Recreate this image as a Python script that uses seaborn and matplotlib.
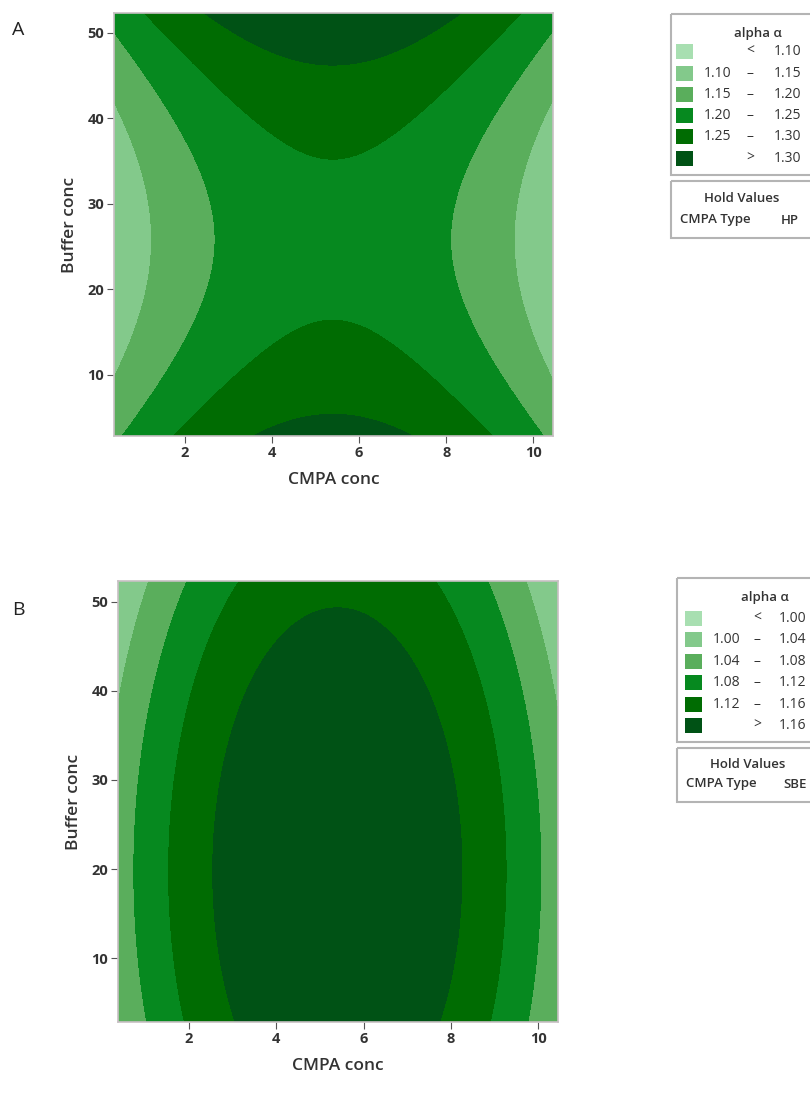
import numpy as np
import matplotlib
matplotlib.use("Agg")
import matplotlib.pyplot as plt
from matplotlib.patches import Rectangle
import seaborn as sns

# response surface settings (quadratic fit, centre + curvature)
x_range = [0.38, 10.45]
y_range = [2.85, 52.3]

# panel A : CMPA Type = HP  (saddle)
a_centre = [5.4, 25.8]
a_const = 1.2365
a_curv = [-0.005, 1.524e-4]
a_levels = [1.10, 1.15, 1.20, 1.25, 1.30]
a_labels = [("", "<", "1.10"), ("1.10", "–", "1.15"), ("1.15", "–", "1.20"),
            ("1.20", "–", "1.25"), ("1.25", "–", "1.30"), ("", ">", "1.30")]

# panel B : CMPA Type = SBE  (maximum)
b_centre = [5.4, 19.75]
b_const = 1.208
b_curv = [-0.0059, -5.5e-5]
b_levels = [1.00, 1.04, 1.08, 1.12, 1.16]
b_labels = [("", "<", "1.00"), ("1.00", "–", "1.04"), ("1.04", "–", "1.08"),
            ("1.08", "–", "1.12"), ("1.12", "–", "1.16"), ("", ">", "1.16")]

greens = ["#a8dfb1", "#83c98b", "#5aae5c", "#06891f", "#006c02", "#005215"]

sns.set_style("white")
plt.rcParams['font.family'] = ['Open Sans', 'DejaVu Sans']

fig = plt.figure(figsize=(8.1, 10.99), dpi=100)
W, H = 810, 1099
tc = "#333333"


def px_axes(l, t, r, b):
    return fig.add_axes([l / W, 1 - b / H, (r - l) / W, (b - t) / H])


def surface(centre, const, curv):
    xs = np.linspace(x_range[0], x_range[1], 300)
    ys = np.linspace(y_range[0], y_range[1], 300)
    X, Y = np.meshgrid(xs, ys)
    Z = const + curv[0] * (X - centre[0]) ** 2 + curv[1] * (Y - centre[1]) ** 2
    return X, Y, Z


def draw_panel(box, centre, const, curv, levels):
    ax = px_axes(*box)
    X, Y, Z = surface(centre, const, curv)
    lv = [-10] + levels + [10]
    ax.contourf(X, Y, Z, levels=lv, colors=greens)
    ax.set_xlim(x_range)
    ax.set_ylim(y_range)
    ax.set_xticks([2, 4, 6, 8, 10])
    ax.set_yticks([10, 20, 30, 40, 50])
    ax.tick_params(axis="both", length=5, width=0.8, color="#555555", labelsize=10.5,
                   labelcolor=tc, bottom=True, left=True, pad=2)
    for lab in ax.get_xticklabels() + ax.get_yticklabels():
        lab.set_fontweight("bold")
    for s in ax.spines.values():
        s.set_color("#c8c0c4")
        s.set_linewidth(1.2)
    ax.set_xlabel("CMPA conc", fontsize=12.5, fontweight="semibold", color=tc, labelpad=9)
    ax.set_ylabel("Buffer conc", fontsize=12.5, fontweight="semibold", color=tc, labelpad=7)
    return ax


def draw_legend(lax, labels, left, top, bottom, hold_bottom, title_y, rows_y, sw_x, cols,
                hold_type, hold_xs):
    lax.add_patch(Rectangle((left, top), W + 20 - left, bottom - top, fill=False,
                            ec="#b4b4b4", lw=1.5))
    lax.add_patch(Rectangle((left, bottom + 6), W + 20 - left, hold_bottom - bottom - 6,
                            fill=False, ec="#b4b4b4", lw=1.5))
    lax.text(cols[1] + 8, title_y, "alpha α", ha="center", va="center", fontsize=9.5,
             fontweight="semibold", color=tc)
    for i, (lo, sep, hi) in enumerate(labels):
        y = rows_y[0] + i * (rows_y[1] - rows_y[0]) / 5
        lax.add_patch(Rectangle((sw_x, y - 7.5), 17, 15, color=greens[i], lw=0))
        if lo:
            lax.text(cols[0], y, lo, ha="right", va="center", fontsize=10, color=tc)
        lax.text(cols[1], y, sep, ha="center", va="center", fontsize=10, color=tc)
        lax.text(cols[2], y, hi, ha="right", va="center", fontsize=10, color=tc)
    lax.text(hold_xs[0], bottom + 23, "Hold Values", ha="center", va="center", fontsize=9.5,
             fontweight="semibold", color=tc)
    lax.text(hold_xs[1], hold_bottom - 18, "CMPA Type", ha="left", va="center", fontsize=9.5,
             fontweight="semibold", color=tc)
    lax.text(hold_xs[2], hold_bottom - 18, hold_type, ha="left", va="center", fontsize=9.5,
             fontweight="semibold", color=tc)


draw_panel((114, 13, 553, 436), a_centre, a_const, a_curv, a_levels)
draw_panel((118, 581, 558, 1022), b_centre, b_const, b_curv, b_levels)

lax = fig.add_axes([0, 0, 1, 1])
lax.set_xlim(0, W)
lax.set_ylim(H, 0)
lax.axis("off")
draw_legend(lax, a_labels, 671, 14, 175, 238, 34, (51.7, 158.3), 676, (731, 750, 801), "HP",
            (742, 680, 781))
draw_legend(lax, b_labels, 677, 578, 742, 802, 598, (618.3, 725.7), 685, (740, 757, 806), "SBE",
            (748, 686, 783))

fig.text(12 / W, 1 - 30 / H, "A", fontsize=14, va="center", ha="left", color="#222222")
fig.text(12 / W, 1 - 610 / H, "B", fontsize=14, va="center", ha="left", color="#222222")

fig.savefig("out.png", dpi=100, facecolor="white")
